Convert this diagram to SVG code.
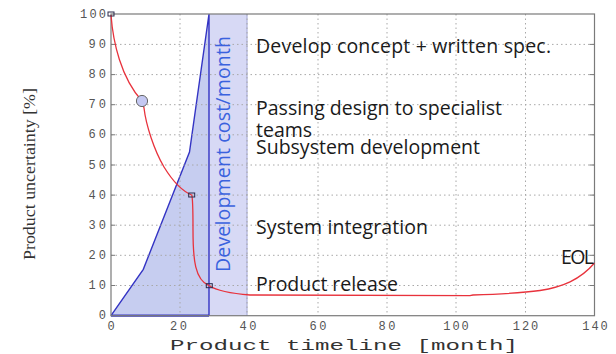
<svg xmlns="http://www.w3.org/2000/svg" width="616" height="354" viewBox="0 0 616 354">
  <style>
    .grid { stroke: #a8a8a8; stroke-width: 1; stroke-dasharray: 1.5 3; fill: none; }
    .frame { stroke: #7a7a7a; stroke-width: 1.2; fill: none; }
    .tick { stroke: #7a7a7a; stroke-width: 1; }
    .tl { font-family: "Liberation Mono", "DejaVu Sans Mono", monospace; font-size: 12px; fill: #555; }
    .note { font-family: "Open Sans", "Liberation Sans", sans-serif; font-size: 19.5px; fill: #1a1a1a; }
    .curve { stroke: #e8323c; stroke-width: 1.3; fill: none; }
    .mk { fill: none; stroke: #2a2a4a; stroke-width: 1; }
  </style>
  <rect width="616" height="354" fill="#ffffff"/>

  <!-- development cost area -->
  <g id="cost-area">
    <rect x="209" y="14" width="38" height="301.7" fill="#d7d9f5"/>
    <line x1="247" y1="14" x2="247" y2="315.7" stroke="#aeb1dc" stroke-width="1.2"/>
    <polygon points="111,315.7 143.3,269.3 189.5,152 209,14 209,315.7" fill="#c6cdf0"/>
    <polyline points="111,315.7 143.3,269.3 189.5,152 209,14 209,315.7" fill="none" stroke="#3434c4" stroke-width="1.4"/>
    <line x1="111" y1="315.7" x2="209" y2="315.7" stroke="#3434c4" stroke-width="2.2"/>
  </g>

  <!-- grid -->
  <g id="grid">
    <path class="grid" d="M180,14V315.7 M247,14V315.7 M318,14V315.7 M387,14V315.7 M456,14V315.7 M525.5,14V315.7"/>
    <path class="grid" d="M111,44.4H594.5 M111,74.6H594.5 M111,104.7H594.5 M111,134.8H594.5 M111,165H594.5 M111,195.1H594.5 M111,225.2H594.5 M111,255.3H594.5 M111,285.5H594.5"/>
  </g>

  <!-- axes frame and ticks -->
  <g id="axes">
    <rect class="frame" x="111" y="14" width="483.5" height="301.7"/>
    <path class="tick" d="M594.5,44.4h-5 M594.5,74.6h-5 M594.5,104.7h-5 M594.5,134.8h-5 M594.5,165h-5 M594.5,195.1h-5 M594.5,225.2h-5 M594.5,255.3h-5 M594.5,285.5h-5
                          M111,44.4h4 M111,74.6h4 M111,104.7h4 M111,134.8h4 M111,165h4 M111,195.1h4 M111,225.2h4 M111,255.3h4 M111,285.5h4"/>
    <g class="tl" text-anchor="end">
      <text x="106" y="18" textLength="26">100</text>
      <text x="106" y="48" textLength="17.4">90</text>
      <text x="106" y="78.1" textLength="17.4">80</text>
      <text x="106" y="108.2" textLength="17.4">70</text>
      <text x="106" y="138.3" textLength="17.4">60</text>
      <text x="106" y="168.5" textLength="17.4">50</text>
      <text x="106" y="198.6" textLength="17.4">40</text>
      <text x="106" y="228.7" textLength="17.4">30</text>
      <text x="106" y="258.8" textLength="17.4">20</text>
      <text x="106" y="289" textLength="17.4">10</text>
      <text x="106" y="319.2" textLength="8.7">0</text>
    </g>
    <g class="tl" text-anchor="middle">
      <text x="111" y="330" textLength="8.7">0</text>
      <text x="178.5" y="330" textLength="17">20</text>
      <text x="248" y="330" textLength="17">40</text>
      <text x="318" y="330" textLength="17">60</text>
      <text x="387" y="330" textLength="17">80</text>
      <text x="456" y="330" textLength="25.5">100</text>
      <text x="525.5" y="330" textLength="25.5">120</text>
      <text x="595" y="330" textLength="25.5">140</text>
    </g>
    <text x="170" y="349.5" textLength="348" lengthAdjust="spacingAndGlyphs" font-family="Liberation Mono, DejaVu Sans Mono, monospace" font-size="15" fill="#333">Product timeline [month]</text>
    <text transform="translate(35,260) rotate(-90)" textLength="172" lengthAdjust="spacingAndGlyphs" font-family="Liberation Serif, DejaVu Serif, serif" font-size="17" fill="#333">Product uncertainty [%]</text>
  </g>

  <!-- rotated cost label -->
  <text transform="translate(230,272) rotate(-90)" textLength="236" font-family="Open Sans, Liberation Sans, sans-serif" font-size="19.5" fill="#3a62de">Development cost/month</text>

  <!-- uncertainty curve -->
  <g id="uncertainty-curve">
    <path class="curve" d="M111,15 C113,42 121,78 142,101 L144,108 C146,125 154,150 164,167 C172,180 182,191 191.7,195 C193,198 193,205 193,230 C193,260 195,280 209,285.7 C216,290 226,293 250,295 L470,295.6 L473,295 C505,294 526,292.5 540,290.5 C562,287 580,280 594.5,263"/>
    <rect class="mk" x="108" y="12" width="6" height="4"/>
    <rect class="mk" x="188.7" y="193" width="6" height="4"/>
    <rect class="mk" x="206.3" y="283.7" width="6" height="4"/>
    <circle cx="142" cy="101" r="5.6" fill="#c4c8f2" stroke="#666" stroke-width="1"/>
  </g>

  <!-- phase notes -->
  <g id="phase-notes" class="note">
    <text x="256" y="53" textLength="295">Develop concept + written spec.</text>
    <text x="256" y="115" textLength="246">Passing design to specialist</text>
    <text x="256" y="137">teams</text>
    <text x="256" y="154" textLength="224">Subsystem development</text>
    <text x="256" y="234" textLength="172">System integration</text>
    <text x="256" y="291" textLength="142">Product release</text>
    <text x="561" y="263.5" textLength="33">EOL</text>
  </g>
</svg>
